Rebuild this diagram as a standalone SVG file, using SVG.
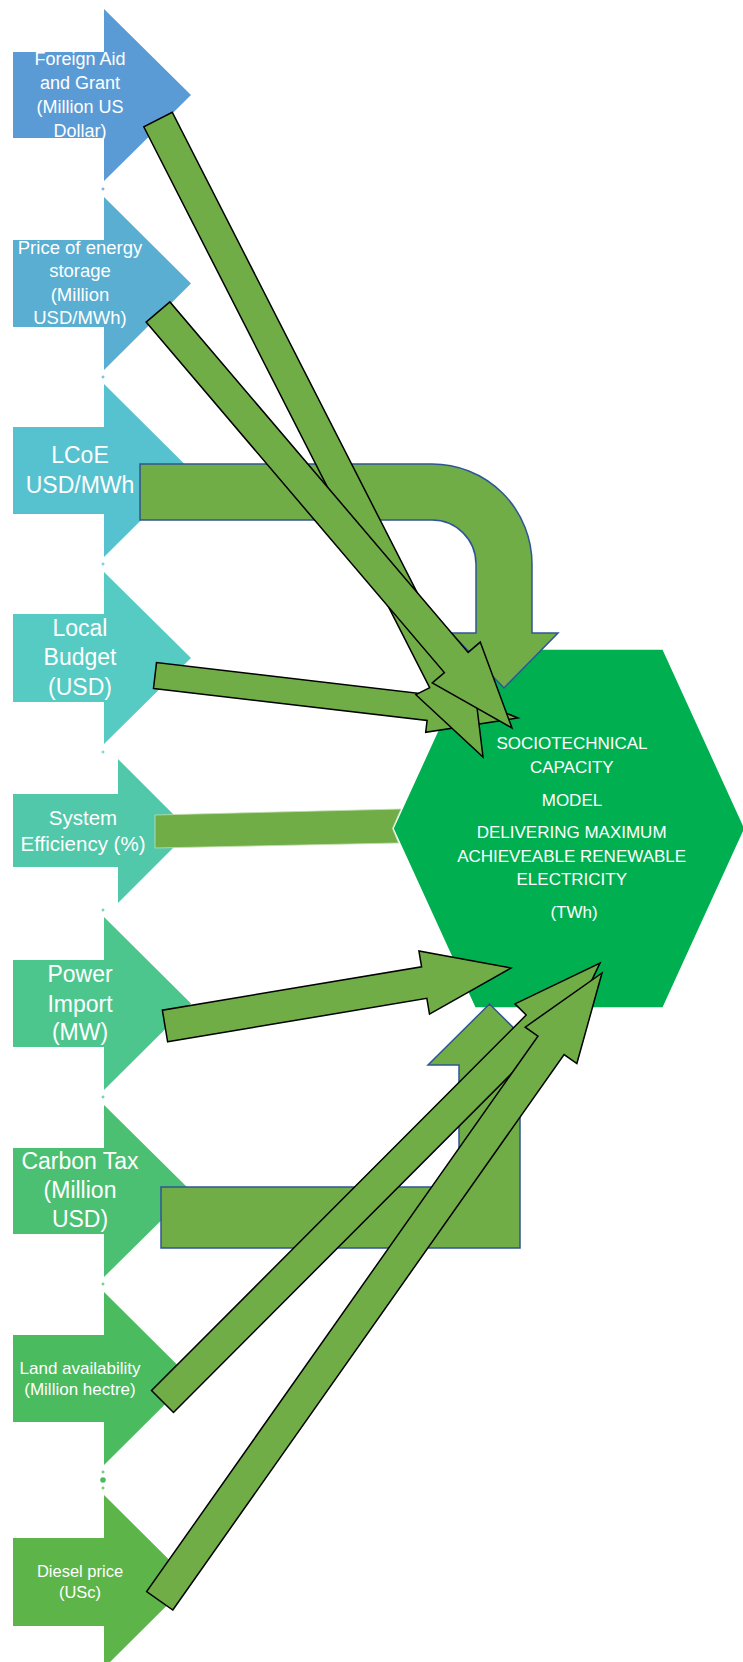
<svg xmlns="http://www.w3.org/2000/svg" width="743" height="1662" viewBox="0 0 743 1662">
  <style>
    .lbl { fill: #FFFFFF; font-family: "Liberation Sans", Arial, sans-serif; text-anchor: middle; }
    .flow { fill: #70AD47; stroke: #000000; stroke-width: 1.5; stroke-linejoin: miter; }
    .bent { fill: #70AD47; stroke: #2F5597; stroke-width: 1.5; stroke-linejoin: miter; }
    .bar { fill: #70AD47; stroke: #C5E0B4; stroke-width: 0.8; }
    .tick { fill: none; stroke-width: 1; }
  </style>

  <!-- Input factors: block arrows pointing right -->
  <g id="node-foreign-aid">
    <polygon points="13,52 104,52 104,9 191,95 104,181 104,138 13,138" fill="#5B9BD5"/>
    <text class="lbl" font-size="18"><tspan x="80" y="65">Foreign Aid</tspan><tspan x="80" y="89">and Grant</tspan><tspan x="80" y="113">(Million US</tspan><tspan x="80" y="137">Dollar)</tspan></text>
  </g>
  <g id="node-storage-price">
    <polygon points="13,240 104,240 104,197 191,283.5 104,370 104,327 13,327" fill="#59AED2"/>
    <text class="lbl" font-size="18.5"><tspan x="80" y="254">Price of energy</tspan><tspan x="80" y="277">storage</tspan><tspan x="80" y="301">(Million</tspan><tspan x="80" y="324">USD/MWh)</tspan></text>
  </g>
  <g id="node-lcoe">
    <polygon points="13,427 104,427 104,384 191,470.5 104,557 104,514 13,514" fill="#56C2D0"/>
    <text class="lbl" font-size="23"><tspan x="80" y="463">LCoE</tspan><tspan x="80" y="493">USD/MWh</tspan></text>
  </g>
  <g id="node-local-budget">
    <polygon points="13,614 104,614 104,572 191,658 104,744 104,702 13,702" fill="#55CBC3"/>
    <text class="lbl" font-size="23"><tspan x="80" y="636">Local</tspan><tspan x="80" y="665">Budget</tspan><tspan x="80" y="695">(USD)</tspan></text>
  </g>
  <g id="node-system-efficiency">
    <polygon points="13,794 118,794 118,759 190,831 118,903 118,867 13,867" fill="#50C8A9"/>
    <text class="lbl" font-size="20.5"><tspan x="83" y="825">System</tspan><tspan x="83" y="851">Efficiency (%)</tspan></text>
  </g>
  <g id="node-power-import">
    <polygon points="13,960 104,960 104,917 191,1003.5 104,1090 104,1047 13,1047" fill="#4DC68E"/>
    <text class="lbl" font-size="23"><tspan x="80" y="982">Power</tspan><tspan x="80" y="1012">Import</tspan><tspan x="80" y="1040">(MW)</tspan></text>
  </g>
  <g id="node-carbon-tax">
    <polygon points="13,1148 104,1148 104,1105 191,1191 104,1277 104,1234 13,1234" fill="#4BC073"/>
    <text class="lbl" font-size="23"><tspan x="80" y="1169">Carbon Tax</tspan><tspan x="80" y="1198">(Million</tspan><tspan x="80" y="1227">USD)</tspan></text>
  </g>
  <g id="node-land">
    <polygon points="13,1335 104,1335 104,1292 191,1378.5 104,1465 104,1422 13,1422" fill="#4ABB5F"/>
    <text class="lbl" font-size="17"><tspan x="80" y="1374">Land availability</tspan><tspan x="80" y="1395">(Million hectre)</tspan></text>
  </g>
  <g id="node-diesel">
    <polygon points="13,1538 104,1538 104,1495 191,1581.5 104,1668 104,1626 13,1626" fill="#5DB54A"/>
    <text class="lbl" font-size="16.5"><tspan x="80" y="1577">Diesel price</tspan><tspan x="80" y="1598">(USc)</tspan></text>
  </g>

  <!-- small anchor marks between the input arrows -->
  <g id="anchor-marks" class="tick">
    <path d="M101.5,189 h3 M103,187.5 v3" stroke="#5B9BD5"/>
    <path d="M101.5,377 h3 M103,375.5 v3" stroke="#59AED2"/>
    <path d="M101.5,564 h3 M103,562.5 v3" stroke="#56C2D0"/>
    <path d="M101.5,752 h3 M103,750.5 v3" stroke="#55CBC3"/>
    <path d="M101.5,910 h3 M103,908.5 v3" stroke="#50C8A9"/>
    <path d="M101.5,1097 h3 M103,1095.5 v3" stroke="#4DC68E"/>
    <path d="M101.5,1284 h3 M103,1282.5 v3" stroke="#4BC073"/>
    <path d="M101.5,1472 h3 M103,1470.5 v3" stroke="#4ABB5F"/>
    <path d="M101.5,1488 h3 M103,1486.5 v3" stroke="#5DB54A"/>
    <circle cx="103" cy="1480" r="2.8" fill="#4ABB5F" stroke="none"/>
  </g>

  <!-- Central model -->
  <g id="node-model">
    <polygon points="475,649 663,649 745,828.5 663,1008 475,1008 393,828.5" fill="#00B050" stroke="#FFFFFF" stroke-width="1.5"/>
    <text class="lbl" font-size="17">
      <tspan x="574" y="749">SOCIOTECHNICAL</tspan>
      <tspan x="574" y="773">CAPACITY</tspan>
      <tspan x="574" y="806">MODEL</tspan>
      <tspan x="574" y="838">DELIVERING MAXIMUM</tspan>
      <tspan x="574" y="862">ACHIEVEABLE RENEWABLE</tspan>
      <tspan x="574" y="885">ELECTRICITY</tspan>
      <tspan x="574" y="918">(TWh)</tspan>
    </text>
  </g>

  <!-- Influence arrows into the model -->
  <g id="connectors">
    <polygon id="c-system-efficiency" class="bar" points="155,815 401,809 392.5,828.5 398.5,843 155,848"/>
    <path id="c-lcoe" class="bent" d="M140,464 H432 A100,100 0 0 1 532,564 V633 H558 L504,688 L451,633 H476 V564 A44,44 0 0 0 432,520 H140 Z"/>
    <path id="c-carbon-tax" class="bent" d="M161,1187 H459 V1065 H428 L489.5,1004 L551,1065 H520 V1248 H161 Z"/>
    <polygon id="c-local-budget" class="flow" points="153.49,688.41 427.10,720.44 425.70,732.36 518,718 431.52,682.70 430.12,694.62 156.51,662.59"/>
    <polygon id="c-foreign-aid" class="flow" points="143.75,126.77 429.69,687.65 415.88,694.69 483,757 472.0,666.07 458.19,673.11 172.25,112.23"/>
    <polygon id="c-storage-price" class="flow" points="146.12,322.11 444.38,672.61 432.27,682.92 512,728 480.25,642.08 468.14,652.39 169.88,301.89"/>
    <polygon id="c-power-import" class="flow" points="167.64,1041.78 426.85,998.33 429.50,1014.11 511,968 418.92,950.99 421.57,966.77 162.36,1010.22"/>
    <polygon id="c-land" class="flow" points="173.47,1412.45 548.11,1036.95 559.30,1048.11 600,963 514.98,1003.89 526.17,1015.05 151.53,1390.55"/>
    <polygon id="c-diesel" class="flow" points="172.78,1610.01 564.11,1054.56 576.86,1063.55 602,973 525.20,1027.15 537.95,1036.14 146.62,1591.59"/>
  </g>
</svg>
